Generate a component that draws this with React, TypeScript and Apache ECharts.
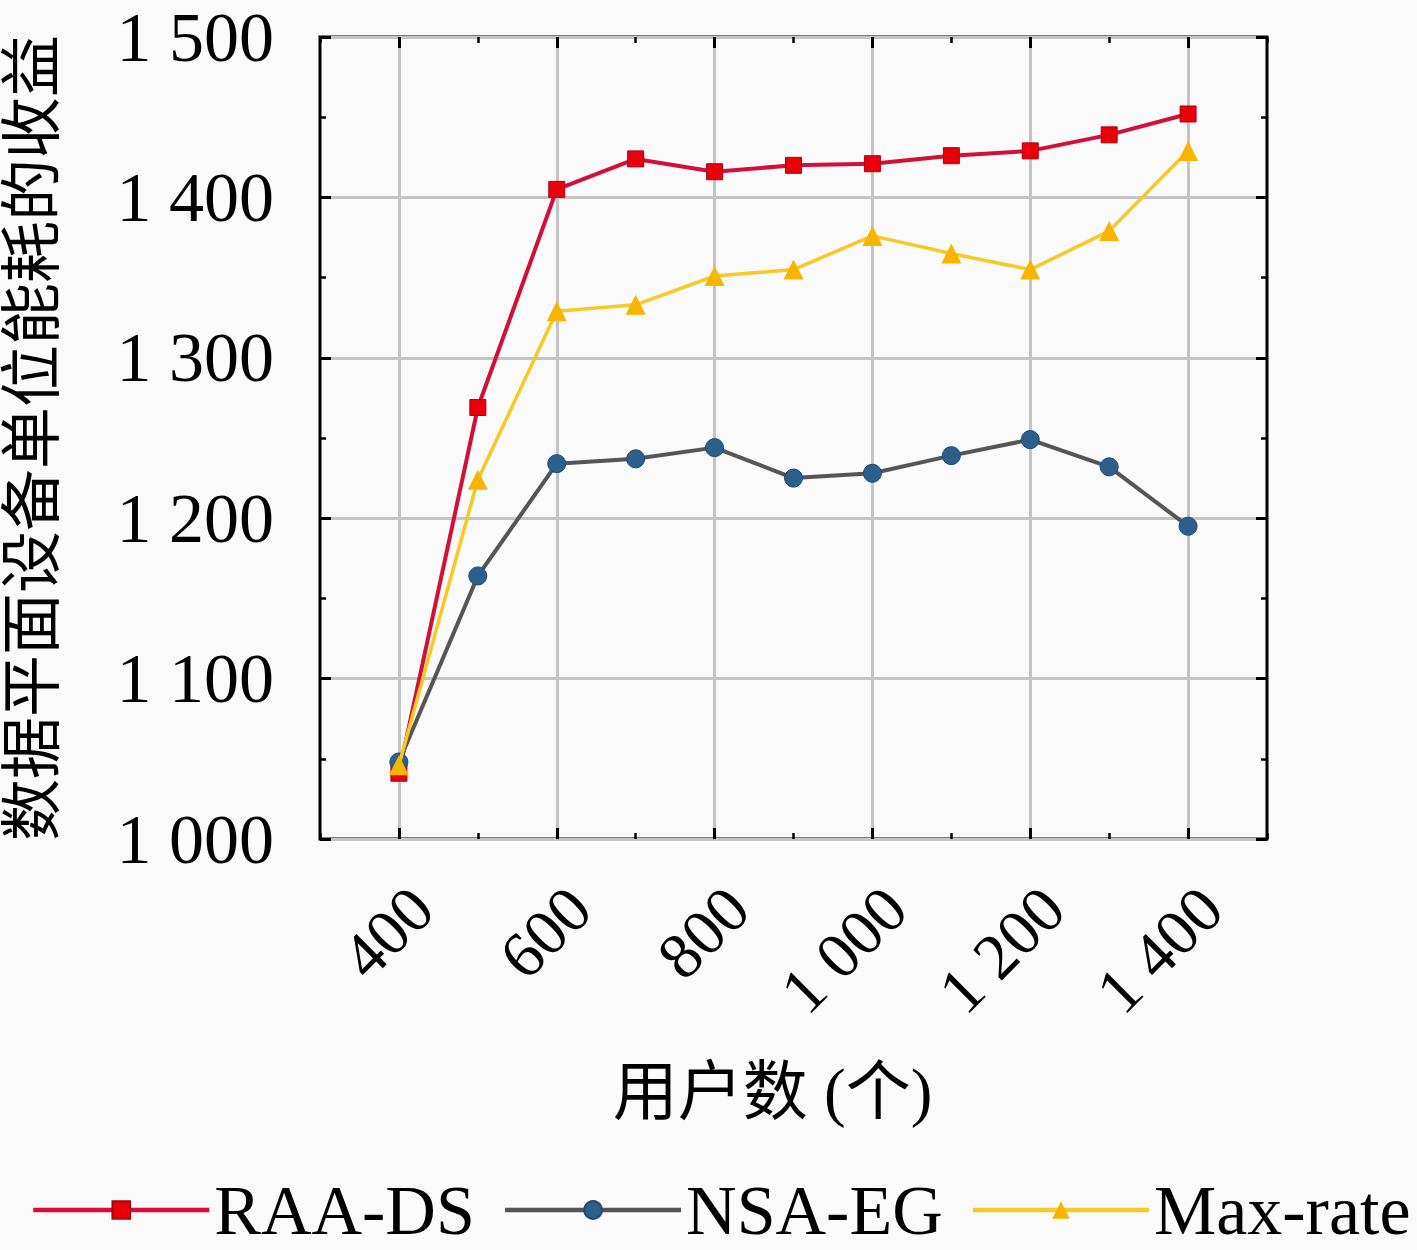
import React, { useEffect, useRef } from "react";
import * as echarts from "echarts";

const users = [400, 500, 600, 700, 800, 900, 1000, 1100, 1200, 1300, 1400];
const raaDs = [1041, 1269, 1405, 1424, 1416, 1420, 1421, 1426, 1429, 1439, 1452];
const nsaEg = [1048, 1164, 1234, 1237, 1244, 1225, 1228, 1239, 1249, 1232, 1195];
const maxRate = [1046, 1224, 1329, 1333, 1351, 1355, 1376, 1365, 1355, 1379, 1429];
const xMajorTicks = [400, 600, 800, 1000, 1200, 1400];
const seriesNames = ["RAA-DS", "NSA-EG", "Max-rate"];

const FONT = "'Liberation Serif', 'Noto Sans CJK SC', serif";

const fmt = (v: number) => {
  const s = String(Math.round(v));
  return s.length > 3 ? s.slice(0, s.length - 3) + " " + s.slice(-3) : s;
};

const pairs = (ys: number[]) => users.map((x, i) => [x, ys[i]]);

export default function App() {
  const ref = useRef<HTMLDivElement>(null);
  useEffect(() => {
    document.body.style.margin = "0";
    const chart = echarts.init(ref.current!, null, { renderer: "svg" });
    const tickStyle = { color: "#000", width: 3 };
    const minorTickStyle = { color: "#000", width: 2.5 };
    const splitStyle = { color: "#c4c4c4", width: 3 };
    const xBase = { type: "value", min: 300, max: 1500, axisLine: { show: false } };
    chart.setOption({
      animation: false,
      backgroundColor: "#fafafa",
      grid: {
        left: 320,
        right: 150,
        top: 37,
        bottom: 411,
        show: true,
        borderColor: "#000",
        borderWidth: 3,
        backgroundColor: "transparent",
        containLabel: false,
        outerBoundsMode: "none",
      },
      legend: {
        bottom: 0,
        left: 26,
        itemWidth: 176,
        itemHeight: 22,
        itemGap: 28,
        lineStyle: { width: 4.5 },
        textStyle: { fontFamily: FONT, fontSize: 70, color: "#000", padding: [0, 0, 0, 0] },
        data: seriesNames,
      },
      xAxis: [
        {
          ...xBase,
          position: "bottom",
          axisTick: { inside: true, length: 11, lineStyle: tickStyle, customValues: xMajorTicks },
          axisLabel: {
            customValues: xMajorTicks,
            rotate: 45,
            margin: 36,
            verticalAlign: "top",
            formatter: fmt,
            fontFamily: FONT,
            fontSize: 65,
            color: "#000",
          },
          splitLine: { show: true, lineStyle: splitStyle },
          name: "用户数 (个)",
          nameLocation: "middle",
          nameGap: 220,
          nameTextStyle: {
            fontFamily: FONT,
            fontSize: 65,
            color: "#000",
            verticalAlign: "top",
            padding: [0, 42, 0, 0],
          },
        },
        {
          ...xBase,
          position: "bottom",
          interval: 100,
          axisTick: { inside: true, length: 6, lineStyle: minorTickStyle },
          axisLabel: { show: false },
          splitLine: { show: false },
        },
        {
          ...xBase,
          position: "top",
          axisTick: { inside: true, length: 11, lineStyle: tickStyle, customValues: xMajorTicks },
          axisLabel: { show: false, customValues: xMajorTicks },
          splitLine: { show: false },
        },
        {
          ...xBase,
          position: "top",
          interval: 100,
          axisTick: { inside: true, length: 6, lineStyle: minorTickStyle },
          axisLabel: { show: false },
          splitLine: { show: false },
        },
      ],
      yAxis: [
        {
          type: "value",
          min: 1000,
          max: 1500,
          interval: 100,
          position: "left",
          axisLine: { show: false },
          axisTick: { inside: true, length: 11, lineStyle: tickStyle },
          minorTick: { show: true, splitNumber: 2, length: 6, lineStyle: minorTickStyle },
          axisLabel: { formatter: fmt, fontFamily: FONT, fontSize: 70, color: "#000", margin: 46 },
          splitLine: { show: true, lineStyle: splitStyle },
          name: "数据平面设备单位能耗的收益",
          nameLocation: "middle",
          nameRotate: 90,
          nameGap: 256,
          nameTextStyle: { fontFamily: FONT, fontSize: 62, color: "#000" },
        },
        {
          type: "value",
          min: 1000,
          max: 1500,
          interval: 100,
          position: "right",
          axisLine: { show: false },
          axisTick: { inside: true, length: 11, lineStyle: tickStyle },
          minorTick: { show: true, splitNumber: 2, length: 6, lineStyle: minorTickStyle },
          axisLabel: { show: false },
          splitLine: { show: false },
        },
      ],
      series: [
        {
          name: seriesNames[0],
          type: "line",
          data: pairs(raaDs),
          symbol: "rect",
          symbolSize: 16,
          lineStyle: { color: "#d20f39", width: 4 },
          itemStyle: { color: "#e8000b", borderColor: "#b00010", borderWidth: 1 },
          z: 3,
        },
        {
          name: seriesNames[1],
          type: "line",
          data: pairs(nsaEg),
          symbol: "circle",
          symbolSize: 18,
          lineStyle: { color: "#555555", width: 4 },
          itemStyle: { color: "#2d5f8c", borderColor: "#24496b", borderWidth: 1 },
          z: 4,
        },
        {
          name: seriesNames[2],
          type: "line",
          data: pairs(maxRate),
          symbol: "triangle",
          symbolSize: 20,
          lineStyle: { color: "#f6c924", width: 3.5 },
          itemStyle: { color: "#f7b500" },
          z: 5,
        },
      ],
    });
    return () => chart.dispose();
  }, []);
  return <div ref={ref} style={{ width: 1417, height: 1250 }} />;
}
